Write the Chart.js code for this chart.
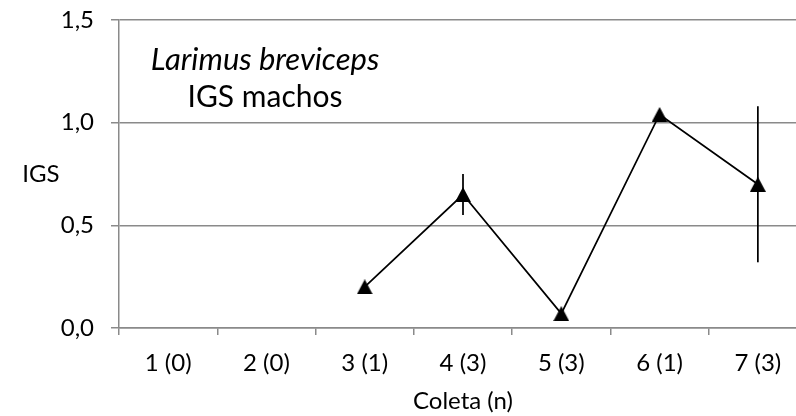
<!DOCTYPE html>
<html>
<head>
<meta charset="utf-8">
<script src="https://cdn.jsdelivr.net/npm/chart.js@4.4.1/dist/chart.umd.min.js"></script>
<style>
  html, body { margin: 0; padding: 0; background: #fff; overflow: hidden; }
  #wrap { width: 796px; height: 416px; overflow: hidden; position: relative; }
  canvas { position: absolute; left: 0; top: 0; }
</style>
</head>
<body>
<div id="wrap"><canvas id="chart" width="820" height="416"></canvas></div>
<script>
// Collection number (with sample size n) on the x axis
const categories = ['1 (0)', '2 (0)', '3 (1)', '4 (3)', '5 (3)', '6 (1)', '7 (3)'];
// Mean gonadosomatic index of males per collection (no fish in 1 and 2)
const igsMeans = [null, null, 0.20, 0.65, 0.07, 1.04, 0.70];
// Half-length of the error bar per collection
const igsErrors = [null, null, null, 0.10, null, null, 0.38];
// Y axis tick labels (comma decimal)
const yTickValues = [0, 0.5, 1.0, 1.5];
const yTickLabels = ['0,0', '0,5', '1,0', '1,5'];

const titleSpecies = 'Larimus breviceps';
const titleSubject = 'IGS machos';
const yAxisTitle = 'IGS';
const xAxisTitle = 'Coleta (n)';

const FONT = 'Lato, "Open Sans", sans-serif';
const GRID = '#8a8a8a';

// Solid black triangle marker, centred on its bounding box
function triangleMarker(w, h) {
  const c = document.createElement('canvas');
  c.width = w; c.height = h;
  const g = c.getContext('2d');
  g.fillStyle = '#000';
  g.beginPath();
  g.moveTo(w / 2, 0);
  g.lineTo(w, h);
  g.lineTo(0, h);
  g.closePath();
  g.fill();
  return c;
}
const marker = triangleMarker(16, 15);

// Vertical error bars without caps
const errorBars = {
  id: 'errorBars',
  afterDatasetsDraw(chart) {
    const meta = chart.getDatasetMeta(0);
    const y = chart.scales.y;
    const ctx = chart.ctx;
    ctx.save();
    ctx.strokeStyle = '#000';
    ctx.lineWidth = 1.75;
    igsErrors.forEach((e, i) => {
      if (e == null || igsMeans[i] == null) return;
      const px = meta.data[i].x;
      ctx.beginPath();
      ctx.moveTo(px, y.getPixelForValue(igsMeans[i] + e));
      ctx.lineTo(px, y.getPixelForValue(igsMeans[i] - e));
      ctx.stroke();
    });
    ctx.restore();
  }
};

// Chart caption inside the plot and the horizontal y axis title
const captions = {
  id: 'captions',
  afterDraw(chart) {
    const ctx = chart.ctx;
    const area = chart.chartArea;
    ctx.save();
    ctx.fillStyle = '#000';
    ctx.textAlign = 'center';
    ctx.textBaseline = 'middle';
    ctx.font = 'italic 31px ' + FONT;
    ctx.fillText(titleSpecies, 265, 60);
    ctx.font = '30px ' + FONT;
    ctx.fillText(titleSubject, 265, 97);
    ctx.font = '24px ' + FONT;
    ctx.fillText(yAxisTitle, 41, (area.top + area.bottom) / 2);
    ctx.restore();
  }
};

new Chart(document.getElementById('chart'), {
  type: 'line',
  data: {
    labels: categories,
    datasets: [{
      data: igsMeans,
      borderColor: '#000',
      borderWidth: 1.75,
      pointStyle: marker,
      pointRadius: 7,
      pointHoverRadius: 7,
      spanGaps: false,
      tension: 0
    }]
  },
  options: {
    responsive: false,
    animation: false,
    events: [],
    layout: { padding: { top: 20, right: 13, left: 0, bottom: 0 } },
    plugins: { legend: { display: false }, tooltip: { enabled: false } },
    scales: {
      x: {
        type: 'category',
        offset: true,
        grid: {
          offset: true,
          drawOnChartArea: false,
          drawTicks: true,
          tickLength: 7,
          color: GRID,
          lineWidth: 1.5
        },
        border: { color: GRID, width: 1.5 },
        ticks: { color: '#000', font: { family: FONT, size: 24 }, padding: 14, maxRotation: 0 },
        title: { display: true, text: xAxisTitle, color: '#000', font: { family: FONT, size: 24 }, padding: { top: 0, bottom: 0 } },
        afterFit(scale) {
          scale.height = 88;
          scale.paddingLeft = 0;
          scale.paddingRight = 0;
        }
      },
      y: {
        min: 0,
        max: 1.5,
        afterBuildTicks(scale) { scale.ticks = yTickValues.map(v => ({ value: v })); },
        grid: { color: GRID, lineWidth: 1.5, tickLength: 8 },
        border: { color: GRID, width: 1.5 },
        ticks: {
          color: '#000',
          font: { family: FONT, size: 24 },
          padding: 17,
          callback(value) {
            const i = yTickValues.indexOf(value);
            return i >= 0 ? yTickLabels[i] : '';
          }
        },
        afterFit(scale) {
          scale.width = 119;
          scale.paddingTop = 0;
          scale.paddingBottom = 0;
        }
      }
    }
  },
  plugins: [errorBars, captions]
});
</script>
</body>
</html>
